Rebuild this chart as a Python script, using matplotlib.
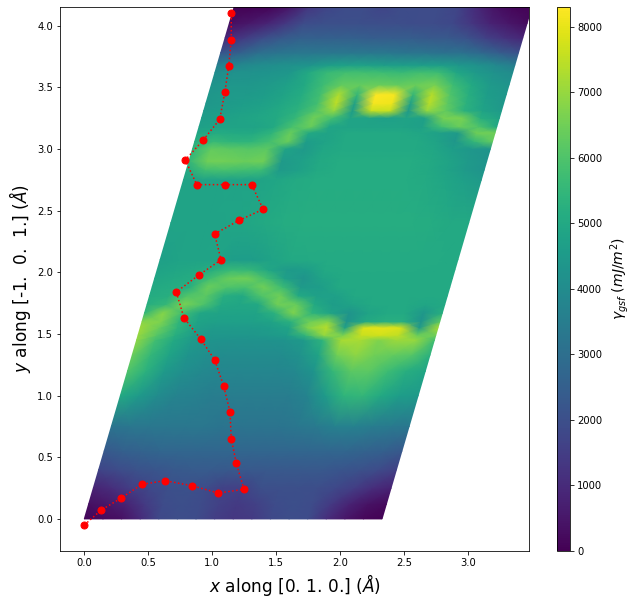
import numpy as np
import matplotlib
matplotlib.use("Agg")
import matplotlib.pyplot as plt

# rows of the energy surface (y in Angstrom), columns run along the bottom edge of the cell
row_y = [0, .12, .25, .4, .55, .75, 1.0, 1.2, 1.33, 1.45, 1.49, 1.55, 1.6, 1.67, 1.74, 1.81, 1.88, 1.95, 2.02, 2.1, 2.4, 2.75, 2.83, 2.9, 3.0, 3.06, 3.13, 3.18, 3.25, 3.31, 3.37, 3.44, 3.52, 3.62, 3.68, 3.78, 3.9, 4.02, 4.15]
col_u = [i / 16 for i in range(17)]
gamma = [
 [100,200,350,1000,1800,1950,1900,1500,1300,1400,1800,1950,1900,1100,500,150,50],
 [350,500,800,1400,1900,2000,1900,1600,1400,1600,1900,2000,1900,1400,800,400,200],
 [800,1100,1500,1800,2000,2050,1900,1600,1600,2000,2000,2000,1950,1800,1500,1100,800],
 [1700,1900,2100,2200,2300,2350,2350,2300,2300,2300,2300,2300,2300,2200,2100,1900,1600],
 [2300,2500,2600,2700,2700,2700,2700,2700,2700,2700,2700,2700,2700,2700,2600,2500,2300],
 [3200,3300,3300,3300,3300,3300,3200,3200,3200,3200,3300,3400,3600,3600,3500,3400,3300],
 [5000,4500,4000,3700,3600,3500,3500,3500,3500,3500,3700,4500,5400,5500,5000,4600,4500],
 [6000,5300,4500,4100,3900,3800,3800,3800,3800,3900,4300,5500,6200,6200,5700,5200,4900],
 [6400,5500,4800,4300,4100,4000,4000,4000,4000,4200,4800,6500,6900,6500,6300,6100,5300],
 [6900,5800,5000,4500,4300,4200,4200,4200,4300,4500,5400,7200,7200,6700,7100,7000,5800],
 [7000,6100,5200,4600,4400,4400,4400,4500,4600,5500,7000,6600,7600,7700,7500,6400,6500],
 [7100,6400,5400,4700,4500,4500,4500,4600,4800,6700,7400,4700,7900,8000,7800,4500,7200],
 [6800,6700,5400,4800,4700,4700,4700,4800,5300,6500,6800,4300,5000,5200,5200,4300,6200],
 [5500,6800,5800,4900,4800,4800,4800,5300,6700,5400,4800,4300,4800,5000,5000,4400,5200],
 [5200,5500,6600,6000,5000,4900,5000,6500,6400,5000,4600,4800,5000,5000,5000,4900,5000],
 [5100,5200,6000,6200,5200,5000,6000,6500,5000,4700,4700,5000,5000,5000,5000,5000,5000],
 [5000,5100,5200,6400,6000,5900,6500,5700,4500,4600,5000,5000,5000,5000,5000,5000,5000],
 [4900,5000,5100,5800,6400,6500,5800,4700,4300,4800,5000,5000,5000,5000,5000,5000,5000],
 [4800,4900,5000,5200,5600,5500,4900,4500,4600,5000,5050,5050,5050,5050,5050,5000,5000],
 [4700,4800,4800,4800,4600,4600,4800,5000,5050,5050,5050,5050,5050,5050,5050,5050,5000],
 [4800,4800,4800,4850,4900,5000,5100,5150,5150,5150,5150,5150,5150,5150,5100,5000,5000],
 [4800,4800,4800,4800,4800,4900,5050,5100,5100,5100,5100,5100,5100,5050,4900,4700,4500],
 [5000,5800,5900,5800,5700,4500,4700,5000,5100,5100,5100,5100,5100,5000,4800,4500,4300],
 [5500,6500,6500,6400,6500,4500,4700,5000,5100,5100,5100,5100,5100,5000,4800,4500,4300],
 [5400,6300,6200,6100,6200,4800,4500,4900,5000,5000,5000,5000,5000,4900,4600,4400,4300],
 [5200,5600,5400,5400,5800,6400,4600,4800,5000,5000,5000,5000,5000,4800,4400,5500,6300],
 [4900,5100,5000,5000,5400,6400,5000,4800,5000,5000,5000,5000,4900,4700,4500,6500,6500],
 [4700,4800,4800,4800,5000,5900,6400,4900,4800,4800,4800,4800,4700,5800,6400,6000,5000],
 [4600,4700,4800,4900,5000,5500,6500,5800,4800,4800,4700,4800,4700,6600,6600,5200,4800],
 [4500,4600,4700,4800,5000,5300,6000,7000,4600,7600,7600,4500,7000,6300,5300,4800,4500],
 [4400,4500,4600,4700,4900,5200,5800,7500,4700,8200,8100,4700,7400,6200,5300,4700,4400],
 [4400,4500,4500,4600,4800,5100,5800,7300,5500,8300,8200,5500,7400,6000,5200,4600,4400],
 [4300,4400,4400,4500,4700,5000,5700,6300,6300,6400,6300,6400,6600,5700,5000,4500,4300],
 [4000,4200,4200,4300,4400,5000,5600,5800,5800,5700,5600,5800,5700,4900,4500,4200,4000],
 [3600,3800,4000,4100,4200,4300,4600,4700,4700,4600,4600,4600,4600,4400,4200,3900,3500],
 [2200,2500,3000,3200,3300,3300,3300,3300,3300,3300,3200,3200,3100,3100,2800,2400,2100],
 [1000,1400,1900,2300,2500,2500,2500,2500,2400,2400,2400,2300,2300,2100,1600,1200,900],
 [300,500,800,1300,1900,2000,2000,2000,1950,1950,1900,1900,1800,1300,800,500,250],
 [50,50,100,500,1300,1700,1900,1900,1700,1900,1900,1900,1700,1000,400,100,50],
]

# minimum energy path
path_x = [0, .13, .29, .45, .63, .84, 1.05, 1.25, 1.19, 1.15, 1.14, 1.09, 1.02, .91, .78, .72, .90, 1.07, 1.02, 1.21, 1.40, 1.31, 1.10, .88, .79, .93, 1.06, 1.10, 1.13, 1.15, 1.15]
path_y = [-.05, .07, .17, .28, .31, .27, .21, .24, .45, .65, .87, 1.08, 1.29, 1.46, 1.63, 1.84, 1.98, 2.10, 2.31, 2.42, 2.51, 2.71, 2.71, 2.71, 2.91, 3.07, 3.24, 3.46, 3.67, 3.88, 4.10]

a_len = 2.33
skew = 0.2825

W, H, DPI = 637, 605, 72
fig = plt.figure(figsize=(W / DPI, H / DPI), dpi=DPI)
ax = fig.add_axes([60 / W, 1 - 551 / H, (529 - 60) / W, (551 - 7) / H])
cax = fig.add_axes([557 / W, 1 - 551 / H, 13 / W, (551 - 7) / H])

U, Y = np.meshgrid(col_u, row_y)
X = U * a_len + Y * skew
mesh = ax.pcolormesh(X, Y, np.array(gamma), shading="gouraud", cmap="viridis", vmin=0, vmax=8300)
ax.plot(path_x, path_y, "r:o", ms=7, lw=1.5)

ax.set_xlim(-0.19, 3.48)
ax.set_ylim(-0.26, 4.15)
ax.set_xticks(np.arange(0, 3.01, 0.5))
ax.set_yticks(np.arange(0, 4.01, 0.5))
ax.tick_params(labelsize=10)
ax.set_xlabel(r"$x$ along [0. 1. 0.] ($\AA$)", fontsize=17, labelpad=4)
ax.set_ylabel(r"$y$ along [-1.  0.  1.] ($\AA$)", fontsize=17, labelpad=4)

cb = fig.colorbar(mesh, cax=cax)
cb.set_ticks(np.arange(0, 8001, 1000))
cb.ax.tick_params(labelsize=10)
cb.set_label(r"$\gamma_{gsf}$ ($mJ/m^2$)", fontsize=14, labelpad=6)

fig.savefig("out.png", dpi=DPI)
